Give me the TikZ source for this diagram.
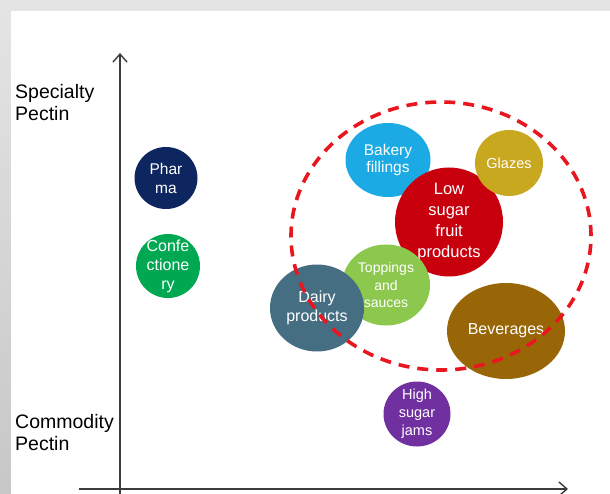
\documentclass[tikz,border=0pt]{standalone}
\usepackage{fontspec}
\setmainfont{Liberation Sans}
\usetikzlibrary{shapes.geometric,arrows.meta}
\usepackage{xcolor}
\definecolor{framegray}{RGB}{228,228,228}
\definecolor{axisgray}{RGB}{60,60,60}
\definecolor{ringred}{RGB}{232,22,30}
\definecolor{pharmablue}{RGB}{14,38,96}
\definecolor{confgreen}{RGB}{0,168,82}
\definecolor{bakeryblue}{RGB}{28,170,228}
\definecolor{glazegold}{RGB}{200,168,30}
\definecolor{lowred}{RGB}{200,0,14}
\definecolor{toppinggreen}{RGB}{140,200,78}
\definecolor{dairyslate}{RGB}{70,110,130}
\definecolor{bevbrown}{RGB}{152,102,6}
\definecolor{jampurple}{RGB}{112,48,160}

\begin{document}
\begin{tikzpicture}[
  x=1pt, y=-1pt,
  bubble/.style={ellipse, inner sep=-30pt, align=center, text=white,
    font=\fontsize{15.5}{19}\selectfont},
  axis/.style={draw=axisgray, line width=1.4pt, -{Straight Barb[length=8pt,width=14pt]}},
  axislabel/.style={anchor=north west, inner sep=0pt, align=left,
    font=\fontsize{19.5}{22.5}\selectfont}
]
\useasboundingbox (0,0) rectangle (610,494);
\fill[framegray] (0,0) rectangle (610,494);
\shade[top color=framegray, bottom color=black!22] (0,11) rectangle (11,494);
\fill[white] (11,11) rectangle (610,494);

\coordinate (ybot) at (120,494);
\coordinate (ytop) at (120,53);
\coordinate (xleft) at (79,489);
\coordinate (xright) at (568,489);
\draw[axis] (ybot) -- (ytop);
\draw[axis] (xleft) -- (xright);

\node[axislabel] (specialty) at (15,84) {Specialty\\Pectin};
\node[axislabel] (commodity) at (15,414) {Commodity\\Pectin};

\node[bubble, fill=pharmablue, minimum width=63pt, minimum height=62pt] (pharma) at (166,178) {Phar\\ma};
\node[bubble, fill=confgreen, minimum width=64pt, minimum height=64pt,
  font=\fontsize{16}{19}\selectfont] (confec) at (168,266) {Confe\\ctione\\ry};
\node[bubble, fill=bakeryblue, minimum width=85pt, minimum height=74pt,
  font=\fontsize{15.5}{17}\selectfont] (bakery) at (388,160) {Bakery\\fillings};
\node[bubble, fill=lowred, minimum width=108pt, minimum height=109pt,
  font=\fontsize{16.5}{21}\selectfont] (lowsugar) at (449,222) {Low\\sugar\\fruit\\products};
\node[bubble, fill=glazegold, minimum width=68pt, minimum height=66pt,
  font=\fontsize{14.5}{17}\selectfont] (glazes) at (509,163) {Glazes};
\node[bubble, fill=toppinggreen, minimum width=88pt, minimum height=81pt,
  font=\fontsize{14}{17.5}\selectfont] (toppings) at (386,285) {Toppings\\and\\sauces};
\node[bubble, fill=dairyslate, minimum width=94pt, minimum height=87pt,
  font=\fontsize{16}{19}\selectfont] (dairy) at (317,308) {Dairy\\products};
\node[bubble, fill=bevbrown, minimum width=118pt, minimum height=96pt,
  font=\fontsize{16}{19}\selectfont] (beverages) at (506,331) {Beverages};
\node[bubble, fill=jampurple, minimum width=67pt, minimum height=65pt,
  font=\fontsize{14.5}{18}\selectfont] (jams) at (417,414) {High\\sugar\\jams};

\draw[ringred, line width=3.6pt, dash pattern=on 11pt off 8pt]
  (441,236) ellipse [x radius=150pt, y radius=134pt];
\end{tikzpicture}
\end{document}
